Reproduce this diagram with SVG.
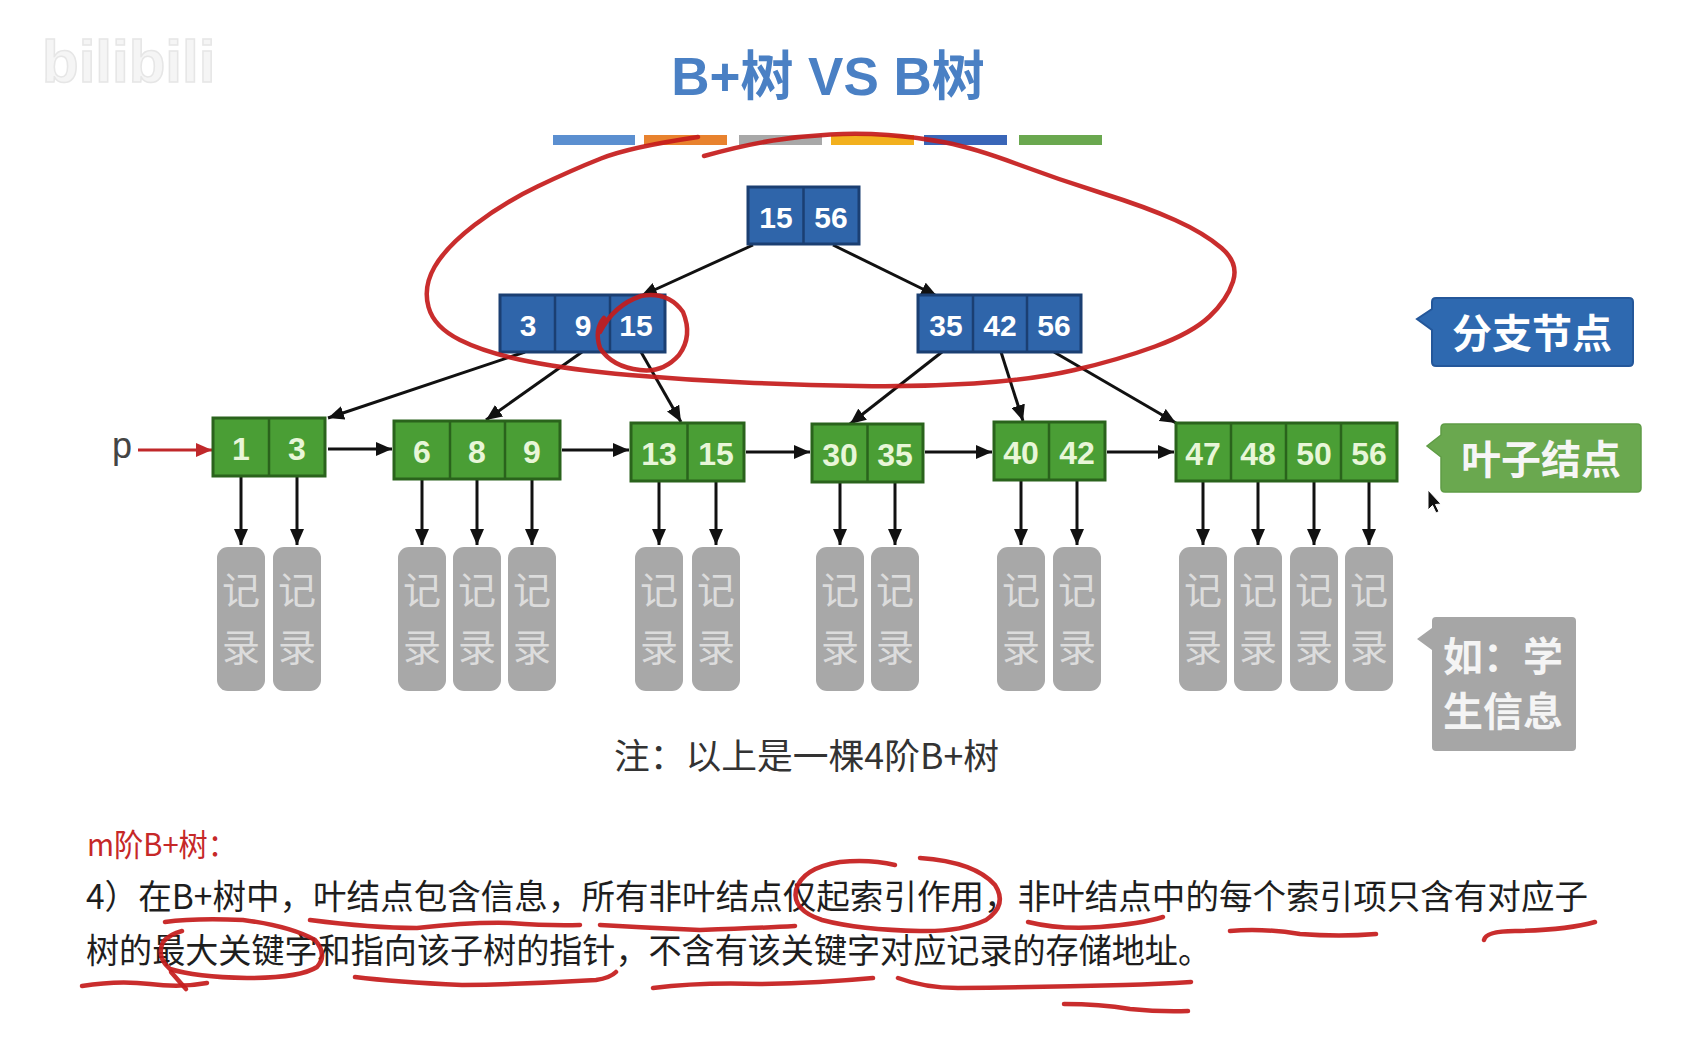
<svg xmlns="http://www.w3.org/2000/svg" width="1688" height="1043" viewBox="0 0 1688 1043">
<style>
.bg{fill:#ffffff}
.inode{fill:#2f65aa;stroke:#1b3f72;stroke-width:3}
.idiv{stroke:#1b3f72;stroke-width:2.5}
.lnode{fill:#4a9e35;stroke:#2a631c;stroke-width:3}
.ldiv{stroke:#2a631c;stroke-width:2.5}
.itxt{font-family:"Liberation Sans",Arial,sans-serif;font-weight:bold;font-size:30px;fill:#ffffff;text-anchor:middle}
.ltxt{font-family:"Liberation Sans",Arial,sans-serif;font-weight:bold;font-size:32px;fill:#e8f6d8;text-anchor:middle}
.rec{fill:#a8a8a8}
.rtxt{font-family:"Noto Sans CJK SC","Noto Sans",sans-serif;font-size:38px;fill:#dcdcdc;text-anchor:middle}
.edge{stroke:#111111;stroke-width:3;fill:none}
.redge{stroke:#c0282a;stroke-width:3;fill:none}
.call{font-family:"Noto Sans CJK SC","Noto Sans",sans-serif;font-weight:bold;font-size:40px}
.body{font-family:"Noto Sans CJK SC","Noto Sans",sans-serif}
.ink{stroke:#c41b1b;stroke-width:4.5;fill:none;stroke-linecap:round;stroke-linejoin:round;opacity:0.92}
</style>
<defs>
<marker id="ah" viewBox="0 0 16 14" refX="16" refY="7" markerWidth="16" markerHeight="14" orient="auto" markerUnits="userSpaceOnUse"><path d="M0,0 L16,7 L0,14 z" fill="#111111"/></marker>
<marker id="ahr" viewBox="0 0 16 14" refX="16" refY="7" markerWidth="16" markerHeight="14" orient="auto" markerUnits="userSpaceOnUse"><path d="M0,0 L16,7 L0,14 z" fill="#c0282a"/></marker>
</defs>
<rect class="bg" x="0" y="0" width="1688" height="1043"/>

<!-- watermark -->
<text x="42" y="82" font-family="'Liberation Sans',Arial,sans-serif" font-weight="bold" font-size="60" fill="#f5f5f5" stroke="#e6e6e6" stroke-width="1.5">bilibili</text>

<!-- title -->
<g id="title">
<text x="828" y="95" text-anchor="middle" font-family="'Liberation Sans','Noto Sans CJK SC',sans-serif" font-weight="bold" font-size="53" fill="#4a80c4">B+树 VS B树</text>
<rect x="553" y="135" width="82" height="10" fill="#5b8fd0"/>
<rect x="644" y="135" width="83" height="10" fill="#e8822e"/>
<rect x="739" y="135" width="83" height="10" fill="#a8a8a8"/>
<rect x="831" y="135" width="83" height="10" fill="#f2b01e"/>
<rect x="924" y="135" width="83" height="10" fill="#3a66b8"/>
<rect x="1019" y="135" width="83" height="10" fill="#6aa84f"/>
</g>

<!-- connectors -->
<g id="connectors">
<line class="edge" x1="753" y1="245" x2="641" y2="296" marker-end="url(#ah)"/>
<line class="edge" x1="833" y1="245" x2="937" y2="296" marker-end="url(#ah)"/>
<line class="edge" x1="525" y1="352" x2="328" y2="418" marker-end="url(#ah)"/>
<line class="edge" x1="582" y1="352" x2="486" y2="420" marker-end="url(#ah)"/>
<line class="edge" x1="641" y1="352" x2="681" y2="422" marker-end="url(#ah)"/>
<line class="edge" x1="942" y1="352" x2="850" y2="424" marker-end="url(#ah)"/>
<line class="edge" x1="1001" y1="352" x2="1023" y2="421" marker-end="url(#ah)"/>
<line class="edge" x1="1054" y1="352" x2="1176" y2="423" marker-end="url(#ah)"/>
<line class="redge" x1="138" y1="450" x2="212" y2="450" marker-end="url(#ahr)"/>
<line class="edge" x1="328" y1="449" x2="392" y2="449" marker-end="url(#ah)"/>
<line class="edge" x1="562" y1="450" x2="629" y2="450" marker-end="url(#ah)"/>
<line class="edge" x1="746" y1="452" x2="810" y2="452" marker-end="url(#ah)"/>
<line class="edge" x1="925" y1="452" x2="992" y2="452" marker-end="url(#ah)"/>
<line class="edge" x1="1107" y1="452" x2="1174" y2="452" marker-end="url(#ah)"/>
<line class="edge" x1="241" y1="476" x2="241" y2="545" marker-end="url(#ah)"/>
<line class="edge" x1="297" y1="476" x2="297" y2="545" marker-end="url(#ah)"/>
<line class="edge" x1="422" y1="479" x2="422" y2="545" marker-end="url(#ah)"/>
<line class="edge" x1="477" y1="479" x2="477" y2="545" marker-end="url(#ah)"/>
<line class="edge" x1="532" y1="479" x2="532" y2="545" marker-end="url(#ah)"/>
<line class="edge" x1="659" y1="481" x2="659" y2="545" marker-end="url(#ah)"/>
<line class="edge" x1="716" y1="481" x2="716" y2="545" marker-end="url(#ah)"/>
<line class="edge" x1="840" y1="482" x2="840" y2="545" marker-end="url(#ah)"/>
<line class="edge" x1="895" y1="482" x2="895" y2="545" marker-end="url(#ah)"/>
<line class="edge" x1="1021" y1="480" x2="1021" y2="545" marker-end="url(#ah)"/>
<line class="edge" x1="1077" y1="480" x2="1077" y2="545" marker-end="url(#ah)"/>
<line class="edge" x1="1203" y1="481" x2="1203" y2="545" marker-end="url(#ah)"/>
<line class="edge" x1="1258" y1="481" x2="1258" y2="545" marker-end="url(#ah)"/>
<line class="edge" x1="1314" y1="481" x2="1314" y2="545" marker-end="url(#ah)"/>
<line class="edge" x1="1369" y1="481" x2="1369" y2="545" marker-end="url(#ah)"/>
</g>

<!-- branch nodes -->
<g id="root">
<rect class="inode" x="748" y="187" width="111" height="57"/>
<line class="idiv" x1="803.5" y1="187" x2="803.5" y2="244"/>
<text class="itxt" x="776" y="228">15</text>
<text class="itxt" x="831" y="228">56</text>
</g>
<g id="branch-left">
<rect class="inode" x="500" y="295" width="165" height="57"/>
<line class="idiv" x1="555" y1="295" x2="555" y2="352"/>
<line class="idiv" x1="610" y1="295" x2="610" y2="352"/>
<text class="itxt" x="528" y="336">3</text>
<text class="itxt" x="583" y="336">9</text>
<text class="itxt" x="636" y="336">15</text>
</g>
<g id="branch-right">
<rect class="inode" x="918" y="295" width="163" height="57"/>
<line class="idiv" x1="973" y1="295" x2="973" y2="352"/>
<line class="idiv" x1="1027" y1="295" x2="1027" y2="352"/>
<text class="itxt" x="946" y="336">35</text>
<text class="itxt" x="1000" y="336">42</text>
<text class="itxt" x="1054" y="336">56</text>
</g>

<!-- leaf nodes -->
<g id="pointer-p"><text x="112" y="458" font-family="'Liberation Sans',Arial,sans-serif" font-size="36" fill="#444444">p</text></g>
<g id="leaf1">
<rect class="lnode" x="213" y="418" width="112" height="58"/>
<line class="ldiv" x1="269" y1="418" x2="269" y2="476"/>
<text class="ltxt" x="241" y="460">1</text>
<text class="ltxt" x="297" y="460">3</text>
</g>
<g id="leaf2">
<rect class="lnode" x="394" y="421" width="166" height="58"/>
<line class="ldiv" x1="450" y1="421" x2="450" y2="479"/>
<line class="ldiv" x1="505" y1="421" x2="505" y2="479"/>
<text class="ltxt" x="422" y="463">6</text>
<text class="ltxt" x="477" y="463">8</text>
<text class="ltxt" x="532" y="463">9</text>
</g>
<g id="leaf3">
<rect class="lnode" x="631" y="423" width="113" height="58"/>
<line class="ldiv" x1="687.5" y1="423" x2="687.5" y2="481"/>
<text class="ltxt" x="659" y="465">13</text>
<text class="ltxt" x="716" y="465">15</text>
</g>
<g id="leaf4">
<rect class="lnode" x="812" y="424" width="111" height="58"/>
<line class="ldiv" x1="867.5" y1="424" x2="867.5" y2="482"/>
<text class="ltxt" x="840" y="466">30</text>
<text class="ltxt" x="895" y="466">35</text>
</g>
<g id="leaf5">
<rect class="lnode" x="994" y="422" width="111" height="58"/>
<line class="ldiv" x1="1049" y1="422" x2="1049" y2="480"/>
<text class="ltxt" x="1021" y="464">40</text>
<text class="ltxt" x="1077" y="464">42</text>
</g>
<g id="leaf6">
<rect class="lnode" x="1176" y="423" width="221" height="58"/>
<line class="ldiv" x1="1231" y1="423" x2="1231" y2="481"/>
<line class="ldiv" x1="1286" y1="423" x2="1286" y2="481"/>
<line class="ldiv" x1="1341" y1="423" x2="1341" y2="481"/>
<text class="ltxt" x="1203" y="465">47</text>
<text class="ltxt" x="1258" y="465">48</text>
<text class="ltxt" x="1314" y="465">50</text>
<text class="ltxt" x="1369" y="465">56</text>
</g>

<!-- records -->
<g id="rec1"><rect class="rec" x="217" y="547" width="48" height="144" rx="11"/><text class="rtxt" x="241" y="604">记</text><text class="rtxt" x="241" y="661">录</text></g>
<g id="rec2"><rect class="rec" x="273" y="547" width="48" height="144" rx="11"/><text class="rtxt" x="297" y="604">记</text><text class="rtxt" x="297" y="661">录</text></g>
<g id="rec3"><rect class="rec" x="398" y="547" width="48" height="144" rx="11"/><text class="rtxt" x="422" y="604">记</text><text class="rtxt" x="422" y="661">录</text></g>
<g id="rec4"><rect class="rec" x="453" y="547" width="48" height="144" rx="11"/><text class="rtxt" x="477" y="604">记</text><text class="rtxt" x="477" y="661">录</text></g>
<g id="rec5"><rect class="rec" x="508" y="547" width="48" height="144" rx="11"/><text class="rtxt" x="532" y="604">记</text><text class="rtxt" x="532" y="661">录</text></g>
<g id="rec6"><rect class="rec" x="635" y="547" width="48" height="144" rx="11"/><text class="rtxt" x="659" y="604">记</text><text class="rtxt" x="659" y="661">录</text></g>
<g id="rec7"><rect class="rec" x="692" y="547" width="48" height="144" rx="11"/><text class="rtxt" x="716" y="604">记</text><text class="rtxt" x="716" y="661">录</text></g>
<g id="rec8"><rect class="rec" x="816" y="547" width="48" height="144" rx="11"/><text class="rtxt" x="840" y="604">记</text><text class="rtxt" x="840" y="661">录</text></g>
<g id="rec9"><rect class="rec" x="871" y="547" width="48" height="144" rx="11"/><text class="rtxt" x="895" y="604">记</text><text class="rtxt" x="895" y="661">录</text></g>
<g id="rec10"><rect class="rec" x="997" y="547" width="48" height="144" rx="11"/><text class="rtxt" x="1021" y="604">记</text><text class="rtxt" x="1021" y="661">录</text></g>
<g id="rec11"><rect class="rec" x="1053" y="547" width="48" height="144" rx="11"/><text class="rtxt" x="1077" y="604">记</text><text class="rtxt" x="1077" y="661">录</text></g>
<g id="rec12"><rect class="rec" x="1179" y="547" width="48" height="144" rx="11"/><text class="rtxt" x="1203" y="604">记</text><text class="rtxt" x="1203" y="661">录</text></g>
<g id="rec13"><rect class="rec" x="1234" y="547" width="48" height="144" rx="11"/><text class="rtxt" x="1258" y="604">记</text><text class="rtxt" x="1258" y="661">录</text></g>
<g id="rec14"><rect class="rec" x="1290" y="547" width="48" height="144" rx="11"/><text class="rtxt" x="1314" y="604">记</text><text class="rtxt" x="1314" y="661">录</text></g>
<g id="rec15"><rect class="rec" x="1345" y="547" width="48" height="144" rx="11"/><text class="rtxt" x="1369" y="604">记</text><text class="rtxt" x="1369" y="661">录</text></g>

<!-- callouts -->
<g id="callout-branch">
<path d="M1436,298 H1629 Q1633,298 1633,302 V362 Q1633,366 1629,366 H1436 Q1432,366 1432,362 V330 L1417,319 L1432,309 V302 Q1432,298 1436,298 Z" fill="#2e69b0" stroke="#24579a" stroke-width="2"/>
<text class="call" x="1532" y="348" text-anchor="middle" fill="#ffffff">分支节点</text>
</g>
<g id="callout-leaf">
<path d="M1445,424 H1637 Q1641,424 1641,428 V488 Q1641,492 1637,492 H1445 Q1441,492 1441,488 V457 L1427,446 L1441,435 V428 Q1441,424 1445,424 Z" fill="#6aa84f" stroke="#5f9c45" stroke-width="1.5"/>
<text class="call" x="1541" y="474" text-anchor="middle" fill="#f6f6f6">叶子结点</text>
</g>
<g id="callout-record">
<path d="M1436,617 H1572 Q1576,617 1576,621 V747 Q1576,751 1572,751 H1436 Q1432,751 1432,747 V650 L1417,639 L1432,628 V621 Q1432,617 1436,617 Z" fill="#a6a6a6"/>
<text class="call" x="1443" y="671" fill="#f4f4f4">如：学</text>
<text class="call" x="1443" y="726" fill="#f4f4f4">生信息</text>
</g>
<path d="M1428,490 L1428,510 L1432.5,505.5 L1436,513 L1439,511.5 L1435.5,504.5 L1441,504 Z" fill="#111111" stroke="#ffffff" stroke-width="1"/>

<!-- notes -->
<g id="notes">
<text class="body" x="614" y="769" font-size="35" fill="#333333" textLength="385" lengthAdjust="spacingAndGlyphs">注：以上是一棵4阶B+树</text>
<text class="body" x="87" y="856" font-size="31" fill="#c62828" textLength="150" lengthAdjust="spacingAndGlyphs">m阶B+树：</text>
<text class="body" x="86" y="909" font-size="34" fill="#1e1e1e" textLength="1502" lengthAdjust="spacingAndGlyphs">4）在B+树中，叶结点包含信息，所有非叶结点仅起索引作用，非叶结点中的每个索引项只含有对应子</text>
<text class="body" x="86" y="963" font-size="34" fill="#1e1e1e" textLength="1125" lengthAdjust="spacingAndGlyphs">树的最大关键字和指向该子树的指针，不含有该关键字对应记录的存储地址。</text>
</g>

<!-- hand-drawn annotations -->
<g id="annotations">
<path class="ink" d="M704,156 Q744,145 773,140.5 Q802,136 830.5,134.5 Q859,133 888,135 Q917,137 945.5,142.5 Q974,148 1017,164 Q1060,180 1103,193.5 Q1146,207 1175,220 Q1204,233 1221.5,248 Q1239,263 1233,281.5 Q1227,300 1209.5,316.5 Q1192,333 1155,346.5 Q1118,360 1074.5,370 Q1031,380 974,383.5 Q917,387 859.5,386 Q802,385 744.5,382.5 Q687,380 629.5,375 Q572,370 529,361.5 Q486,353 460,340 Q434,327 428.5,307 Q423,287 434.5,267 Q446,247 474.5,225 Q503,203 537.5,186.5 Q572,170 601,158.5 Q630,147 698,137"/>
<path class="ink" d="M600,332 Q614,305 641,296 Q668,291 683,312 Q693,336 679,355 Q663,373 640,370 Q612,367 600,348 Q594,330 604,318"/>
<path class="ink" d="M310,920 Q372,928 417,928 Q470,922 510,923 Q550,926 580,925"/>
<path class="ink" d="M600,925 Q650,928 700,930 Q760,928 795,926"/>
<path class="ink" d="M920,858 Q975,862 995,885 Q1008,905 986,920 Q960,932 920,931 Q860,930 822,920 Q792,910 796,890 Q802,868 840,862 Q870,859 895,865"/>
<path class="ink" d="M1028,922 Q1060,930 1100,927 Q1140,924 1163,917"/>
<path class="ink" d="M1230,931 Q1262,928 1300,934 Q1340,937 1376,934"/>
<path class="ink" d="M1484,940 Q1486,931 1515,931 Q1567,930 1595,922"/>
<path class="ink" d="M165,922 Q194,918 243,920 Q290,926 315,940 Q328,955 317,967 Q300,978 247,978 Q195,977 170,969 Q156,957 163,942 Q170,934 182,931"/>
<path class="ink" d="M171,972 Q178,980 186,989"/>
<path class="ink" d="M82,986 Q118,980 150,984 Q180,988 207,983"/>
<path class="ink" d="M355,977 Q395,982 462,985 Q529,984 596,980 Q610,978 616,972"/>
<path class="ink" d="M653,988 Q700,982 760,984 Q820,983 873,978"/>
<path class="ink" d="M898,978 Q925,988 958,988 Q1041,987 1124,985 Q1160,984 1191,982"/>
<path class="ink" d="M1064,1004 Q1100,1004 1130,1009 Q1160,1012 1188,1011"/>
</g>
</svg>
